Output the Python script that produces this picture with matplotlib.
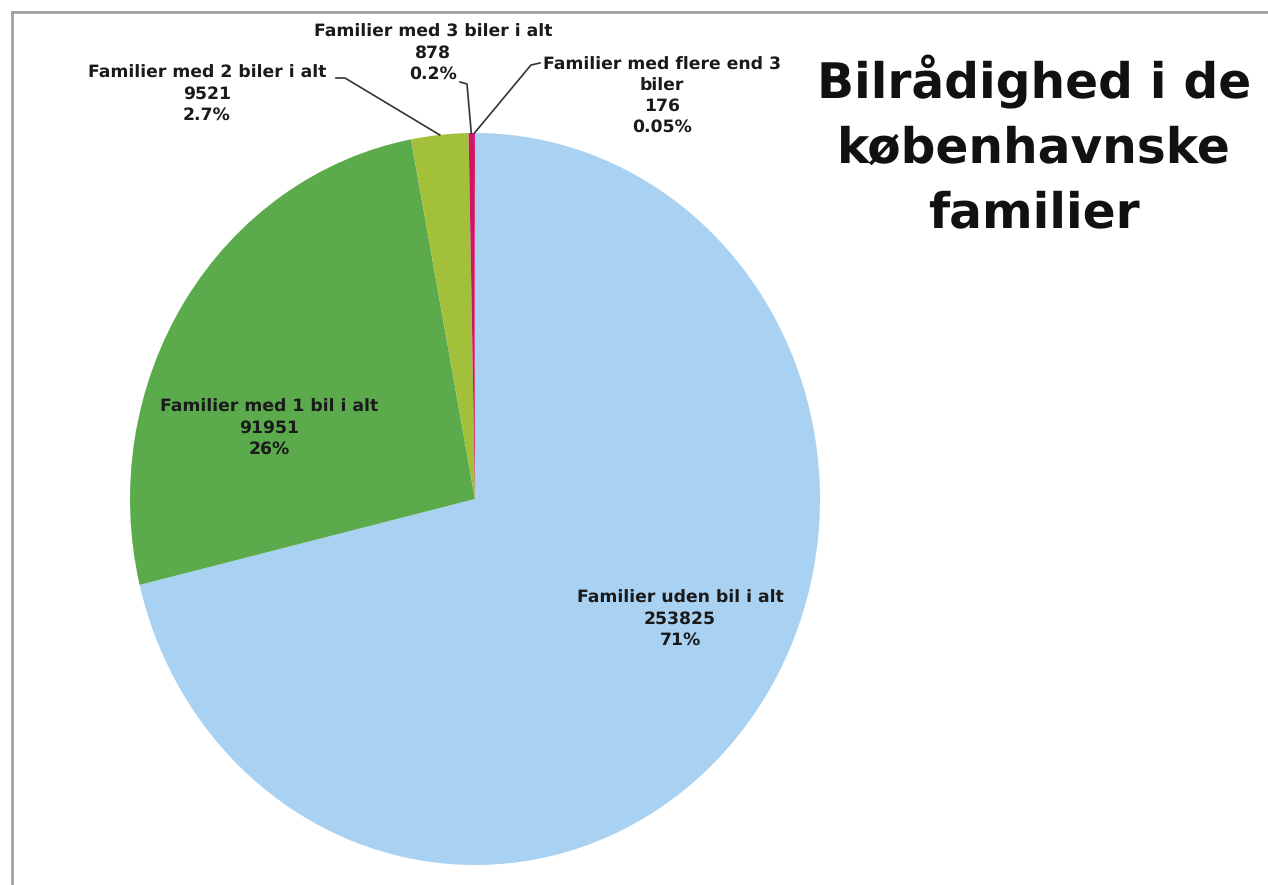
import numpy as np
import matplotlib
matplotlib.use("Agg")
import matplotlib.pyplot as plt
from matplotlib.lines import Line2D

plt.rcParams["text.hinting"] = "no_hinting"

# Data
kategorier = ["Familier uden bil i alt", "Familier med 1 bil i alt",
              "Familier med 2 biler i alt", "Familier med 3 biler i alt",
              "Familier med flere end 3\nbiler"]
antal = [253825, 91951, 9521, 878, 176]
procent_tekst = ["71%", "26%", "2.7%", "0.2%", "0.05%"]
farver = ["#A9D1F2", "#5BAA4C", "#A2C03A", "#C81A62", "#E3196E"]

W, H = 1268, 885
fig = plt.figure(figsize=(W / 100, H / 100), dpi=100)
fig.patch.set_facecolor("white")


def px(x, y):
    # pixel (fra top-venstre) -> figur-koordinater
    return x / W, 1 - y / H


# Pie-axes placeret i pixel-boks (130,133)-(820,865)
l, t, r, b = 130, 133, 820, 865
ax = fig.add_axes([l / W, 1 - b / H, (r - l) / W, (b - t) / H])
wedges, _ = ax.pie(antal, colors=farver, startangle=90, counterclock=False,
                   radius=1, wedgeprops=dict(linewidth=0))
ax.set_xlim(-1, 1)
ax.set_ylim(-1, 1)
ax.set_aspect("auto")
ax.axis("off")


def kant_punkt(i, rr=1.0):
    w = wedges[i]
    theta = np.deg2rad((w.theta1 + w.theta2) / 2)
    disp = ax.transData.transform((rr * np.cos(theta), rr * np.sin(theta)))
    return fig.transFigure.inverted().transform(disp)


# Etiketter
label_pos = [(680, 619), (269, 428), (207, 94), (433, 53), (662, 96)]
for i, (x, y) in enumerate(label_pos):
    tekst = f"{kategorier[i]}\n{antal[i]}\n{procent_tekst[i]}"
    fx, fy = px(x, y)
    fig.text(fx, fy, tekst, ha="center", va="center", fontsize=12.4,
             fontweight="bold", color="#1a1a1a", linespacing=1.32,
             family="DejaVu Sans")

# Leader lines
leder = {2: [(336, 78), (345, 78)], 3: [(460, 82), (467, 84)],
         4: [(540, 63), (531, 65)]}
for i, pts in leder.items():
    ex, ey = kant_punkt(i)
    xs = [px(*p)[0] for p in pts] + [ex]
    ys = [px(*p)[1] for p in pts] + [ey]
    fig.add_artist(Line2D(xs, ys, transform=fig.transFigure,
                          color="#333333", lw=1.2))

# Titel
tx, ty = px(1034, 146)
fig.text(tx, ty, "Bilrådighed i de\nkøbenhavnske\nfamilier", ha="center",
         va="center", fontsize=35, fontweight="bold", color="#111111",
         linespacing=1.45, family="DejaVu Sans")

# Ramme (top og venstre)
x0, y0 = px(12, 12)
fig.add_artist(Line2D([x0, 1.0], [y0, y0], transform=fig.transFigure,
                      color="#A0A0A0", lw=2))
fig.add_artist(Line2D([x0, x0], [y0, 0.0], transform=fig.transFigure,
                      color="#A0A0A0", lw=2))

fig.savefig("out.png", dpi=100)
